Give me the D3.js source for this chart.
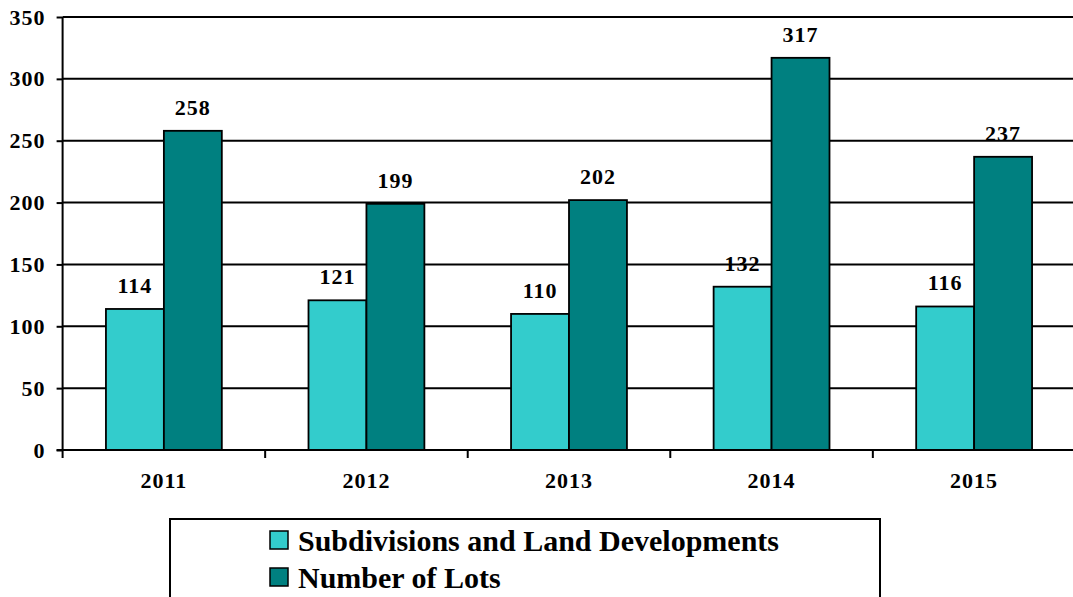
<!DOCTYPE html>
<html>
<head>
<meta charset="utf-8">
<script src="https://cdn.jsdelivr.net/npm/d3@7"></script>
<style>
  body { margin: 0; background: #fff; }
  text { font-family: "Liberation Serif", "Times New Roman", serif; font-weight: bold; fill: #000; }
  .num { font-size: 22px; letter-spacing: 1px; }
</style>
</head>
<body>
<div id="chart"></div>
<script>
const years = ["2011", "2012", "2013", "2014", "2015"];
const subdivisions = [114, 121, 110, 132, 116];
const lots = [258, 199, 202, 317, 237];
const seriesNames = ["Subdivisions and Land Developments", "Number of Lots"];
const seriesColors = ["#33cccc", "#008080"];
const yTicks = [0, 50, 100, 150, 200, 250, 300, 350];

const width = 1073, height = 597;
const plotLeft = 62.6, plotRight = 1075.4, plotTop = 17, plotBottom = 450;

const svg = d3.select("#chart").append("svg")
    .attr("width", width)
    .attr("height", height);

const x = d3.scaleBand()
    .domain(years)
    .range([plotLeft, plotRight])
    .padding(0);

const inner = d3.scaleBand()
    .domain([0, 1])
    .range([0, x.bandwidth()])
    .paddingInner(0)
    .paddingOuter(0.748);

const y = d3.scaleLinear()
    .domain([0, 350])
    .range([plotBottom, plotTop]);

// gridlines
svg.append("g")
    .selectAll("line")
    .data(yTicks.filter(d => d > 0))
    .join("line")
    .attr("x1", plotLeft)
    .attr("x2", width)
    .attr("y1", d => y(d))
    .attr("y2", d => y(d))
    .attr("stroke", "#000")
    .attr("stroke-width", 2);

// bars
const data = years.map((yr, i) => ({ year: yr, values: [subdivisions[i], lots[i]] }));

const groups = svg.append("g")
    .selectAll("g")
    .data(data)
    .join("g")
    .attr("transform", d => `translate(${x(d.year)},0)`);

groups.selectAll("rect")
    .data(d => d.values.map((v, k) => ({ k, v })))
    .join("rect")
    .attr("x", d => inner(d.k))
    .attr("width", inner.bandwidth())
    .attr("y", d => y(d.v))
    .attr("height", d => y(0) - y(d.v))
    .attr("fill", d => seriesColors[d.k])
    .attr("stroke", "#000")
    .attr("stroke-width", 1.8);

groups.selectAll("text")
    .data(d => d.values.map((v, k) => ({ k, v })))
    .join("text")
    .attr("class", "num")
    .attr("x", d => inner(d.k) + inner.bandwidth() / 2)
    .attr("y", d => y(d.v) - 16)
    .attr("text-anchor", "middle")
    .text(d => d.v);

// y axis
const yAxis = svg.append("g")
    .attr("transform", `translate(${plotLeft},0)`)
    .call(d3.axisLeft(y).tickValues(yTicks).tickSize(6).tickPadding(11));
yAxis.select(".domain").attr("stroke-width", 2).attr("d", `M0,${plotTop}V${plotBottom}`);
yAxis.selectAll(".tick line").attr("stroke-width", 2);
yAxis.selectAll(".tick text").attr("class", "num").attr("font-family", null).attr("font-size", null);

// x axis
const xAxis = svg.append("g")
    .attr("transform", `translate(0,${plotBottom})`)
    .call(d3.axisBottom(x).tickSize(0).tickPadding(22));
xAxis.select(".domain").attr("stroke-width", 2).attr("d", `M${plotLeft - 6},0H${width}`);
xAxis.selectAll(".tick text").attr("class", "num").attr("font-family", null).attr("font-size", null);

xAxis.append("g")
    .selectAll("line")
    .data(years.map(d => x(d)).concat([plotRight]))
    .join("line")
    .attr("x1", d => d)
    .attr("x2", d => d)
    .attr("y1", 0)
    .attr("y2", 8)
    .attr("stroke", "#000")
    .attr("stroke-width", 2);

// legend
const legend = svg.append("g");
legend.append("rect")
    .attr("x", 170)
    .attr("y", 519)
    .attr("width", 710)
    .attr("height", 100)
    .attr("fill", "#fff")
    .attr("stroke", "#000")
    .attr("stroke-width", 2);

const items = legend.selectAll("g")
    .data(seriesNames)
    .join("g")
    .attr("transform", (d, i) => `translate(270,${531 + i * 37})`);

items.append("rect")
    .attr("width", 18)
    .attr("height", 18)
    .attr("fill", (d, i) => seriesColors[i])
    .attr("stroke", "#000")
    .attr("stroke-width", 1.5);

items.append("text")
    .attr("x", 28)
    .attr("y", 20)
    .style("font-size", "30px")
    .text(d => d);
</script>
</body>
</html>
